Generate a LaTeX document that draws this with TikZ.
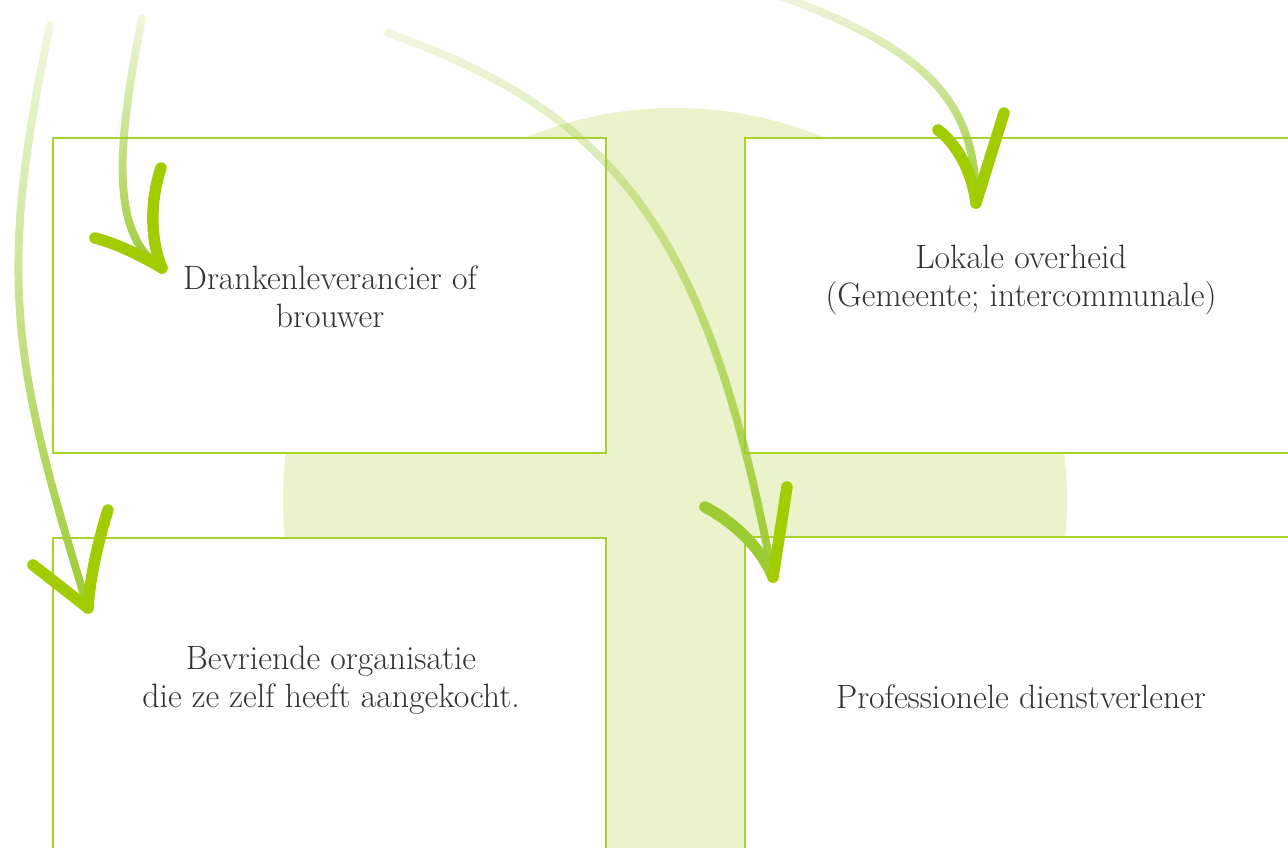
\documentclass[tikz,border=0pt]{standalone}
\usetikzlibrary{fadings}
\definecolor{pale}{RGB}{234,243,204}
\definecolor{lime}{RGB}{168,211,40}
\definecolor{tipgreen}{RGB}{160,204,0}
\definecolor{shaftgreen}{RGB}{156,204,50}
\definecolor{ink}{RGB}{50,50,50}
\tikzfading[name=fadedown, top color=transparent!85, bottom color=transparent!0]
\tikzset{
  box/.style={draw=lime, line width=0.8pt, fill=white},
  lbl/.style={text=ink, align=center, font=\fontsize{19.2}{21.6}\selectfont},
  shaft/.style={draw=shaftgreen, line width=4.5pt, line cap=round, path fading=fadedown},
  barb/.style={draw=tipgreen, line width=6.5pt, line cap=round}
}
\begin{document}
\begin{tikzpicture}[x=0.02cm, y=-0.02cm]
\useasboundingbox (0,0) rectangle (1288,848);
\clip (0,0) rectangle (1288,848);
\fill[pale] (675,500) circle (392);

\node[box, minimum width=11.06cm, minimum height=6.3cm] (lev) at (329.5,295.5) {};
\node[box, minimum width=11.3cm, minimum height=6.3cm] (gem) at (1027.5,295.5) {};
\node[box, minimum width=11.06cm, minimum height=6.64cm] (org) at (329.5,704) {};
\node[box, minimum width=11.3cm, minimum height=6.66cm] (pro) at (1027.5,703.5) {};

\node[lbl] (levtxt) at (330,297) {Drankenleverancier of\\brouwer};
\node[lbl] (gemtxt) at (1021,280) {Lokale overheid\\(Gemeente; intercommunale)};
\node[lbl] (orgtxt) at (331,680) {Bevriende organisatie\\die ze zelf heeft aangekocht.};
\node[lbl] (protxt) at (1021,697) {Professionele dienstverlener};

\coordinate (orgstart) at (50,25);
\coordinate (orgtip) at (88,608);
\coordinate (levstart) at (142,18);
\coordinate (levtip) at (162,268);
\coordinate (prostart) at (388,33);
\coordinate (protip) at (773,577);
\coordinate (gemstart) at (780,-4);
\coordinate (gemtip) at (976,203);

\draw[shaft] (orgstart) .. controls (-2.5,275) and (10.5,358) .. (orgtip);
\draw[shaft] (levstart) .. controls (118,140) and (108,235) .. (levtip);
\draw[shaft] (prostart) .. controls (628.8,117.8) and (710,248.5) .. (protip);
\draw[shaft] (gemstart) .. controls (935,51.75) and (976,108.3) .. (gemtip);

\draw[barb] (33,565) -- (orgtip);
\draw[barb] (108,510) .. controls (100,535) and (90,575) .. (orgtip);
\draw[barb] (95,238) .. controls (115,243) and (140,255) .. (levtip);
\draw[barb] (161,168) .. controls (150,200) and (150,240) .. (levtip);
\draw[barb, shaftgreen] (705,507) .. controls (730,520) and (760,545) .. (protip);
\draw[barb] (787,487) -- (protip);
\draw[barb] (938,130) .. controls (955,142) and (972,170) .. (gemtip);
\draw[barb] (1004,113) -- (gemtip);
\end{tikzpicture}
\end{document}
